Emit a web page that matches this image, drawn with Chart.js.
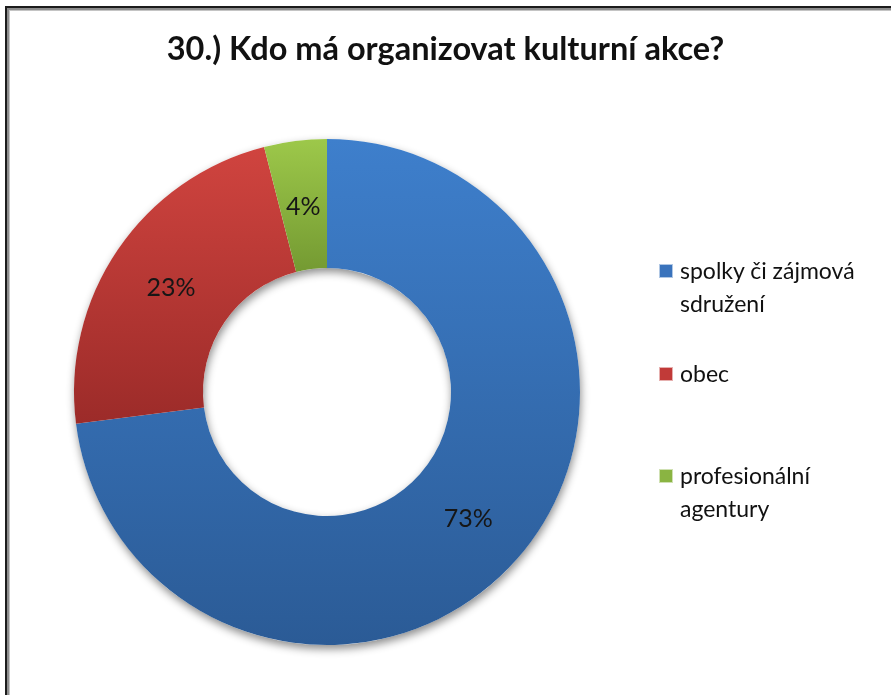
<!DOCTYPE html>
<html lang="cs">
<head>
<meta charset="utf-8">
<title>Kdo má organizovat kulturní akce?</title>
<script src="https://cdn.jsdelivr.net/npm/chart.js@4.4.0/dist/chart.umd.min.js"></script>
<style>
  html, body { margin: 0; padding: 0; background: #fff; }
  #wrap { position: relative; width: 891px; height: 695px; overflow: hidden; font-family: Lato, "Open Sans", sans-serif; color: #111; }
  #frame { position: absolute; left: 5px; top: 6px; width: 1000px; height: 900px;
           border-left: 2px solid #1c1c1c; border-top: 2px solid #1c1c1c;
           box-shadow: inset 2px 2px 0 #8c8c8c, inset 3px 3px 0 #c4c4c4; }
  #chart { position: absolute; left: 0; top: 0; }
  #title { position: absolute; left: 0; top: 28px; width: 891px; line-height: 40px;
           text-align: center; font-weight: bold; font-size: 32.5px; }
  .legend-item { position: absolute; left: 659px; font-size: 23px; line-height: 33px; white-space: pre; }
  .legend-item .box { position: absolute; left: 0; top: 10px; width: 12px; height: 12px; border: 1px solid rgba(255,255,255,0.6); }
  .legend-item .text { margin-left: 21px; }
</style>
</head>
<body>
<div id="wrap">
  <div id="frame"></div>
  <canvas id="chart" width="891" height="695"></canvas>
  <div id="title">30.) Kdo má organizovat kulturní akce?</div>
  <div id="legend"></div>
</div>
<script>
const chartTitle = '30.) Kdo má organizovat kulturní akce?';
const categories = ['spolky či zájmová\nsdružení', 'obec', 'profesionální\nagentury'];
const shares = [73, 23, 4];

// light (top) and dark (bottom) shade of each slice
const topColors = ['#3e7fcc', '#d0443f', '#9dc84a'];
const bottomColors = ['#2b5b96', '#9c2b29', '#749a32'];
const legendColors = ['#3a73bc', '#c13a38', '#8ab442'];
const legendTops = [254, 357, 459];

const CUTOUT = 0.49;

// vertical gradient spanning the slice's own height
function sliceFill(context) {
    const chart = context.chart;
    const area = chart.chartArea;
    const i = context.dataIndex;
    if (!area) return topColors[i];
    const cx = (area.left + area.right) / 2;
    const cy = (area.top + area.bottom) / 2;
    const r = Math.min(area.width, area.height) / 2;
    const total = shares.reduce((a, b) => a + b, 0);
    let before = 0;
    for (let k = 0; k < i; k++) before += shares[k];
    const a0 = before / total * 2 * Math.PI;
    const a1 = (before + shares[i]) / total * 2 * Math.PI;
    let yMin = Infinity, yMax = -Infinity;
    for (let k = 0; k <= 90; k++) {
        const a = a0 + (a1 - a0) * k / 90;
        [r * CUTOUT, r].forEach(rr => {
            const y = cy - rr * Math.cos(a);
            yMin = Math.min(yMin, y);
            yMax = Math.max(yMax, y);
        });
    }
    const g = chart.ctx.createLinearGradient(0, yMin, 0, yMax);
    g.addColorStop(0, topColors[i]);
    g.addColorStop(1, bottomColors[i]);
    return g;
}

// soft drop shadow under the ring
const ringShadow = {
    id: 'ringShadow',
    beforeDatasetsDraw(chart) {
        const arc = chart.getDatasetMeta(0).data[0];
        if (!arc) return;
        const c = chart.ctx;
        c.save();
        c.beginPath();
        c.arc(arc.x, arc.y, arc.outerRadius, 0, 2 * Math.PI);
        c.arc(arc.x, arc.y, arc.innerRadius, 0, 2 * Math.PI, true);
        c.shadowColor = 'rgba(0,0,0,0.45)';
        c.shadowBlur = 9;
        c.shadowOffsetX = 1;
        c.shadowOffsetY = 4;
        c.fillStyle = '#fff';
        c.fill();
        c.restore();
    }
};

// percentage labels in the middle of each slice
const sliceLabels = {
    id: 'sliceLabels',
    afterDatasetsDraw(chart) {
        const c = chart.ctx;
        c.save();
        c.font = '25px Lato, "Open Sans", sans-serif';
        c.fillStyle = '#161616';
        c.textAlign = 'center';
        c.textBaseline = 'middle';
        chart.getDatasetMeta(0).data.forEach((arc, i) => {
            const p = arc.tooltipPosition();
            c.fillText(shares[i] + '%', p.x, p.y + 2);
        });
        c.restore();
    }
};

const ctx = document.querySelector('#chart').getContext('2d');
const chart = new Chart(ctx, {
    type: 'doughnut',
    data: {
        labels: categories,
        datasets: [{
            data: shares,
            backgroundColor: sliceFill,
            borderWidth: 0
        }]
    },
    options: {
        responsive: false,
        animation: false,
        devicePixelRatio: 1,
        cutout: (CUTOUT * 100) + '%',
        layout: {
            padding: { left: 74, right: 311, top: 136, bottom: 47 }
        },
        plugins: {
            legend: { display: false },
            title: { display: false },
            tooltip: { enabled: false }
        }
    },
    plugins: [ringShadow, sliceLabels]
});

// legend on the right
document.querySelector('#title').textContent = chartTitle;
const legend = document.querySelector('#legend');
categories.forEach((name, i) => {
    const item = document.createElement('div');
    item.className = 'legend-item';
    item.style.top = legendTops[i] + 'px';
    const box = document.createElement('span');
    box.className = 'box';
    box.style.background = legendColors[i];
    const text = document.createElement('div');
    text.className = 'text';
    text.textContent = name;
    item.appendChild(box);
    item.appendChild(text);
    legend.appendChild(item);
});
</script>
</body>
</html>
